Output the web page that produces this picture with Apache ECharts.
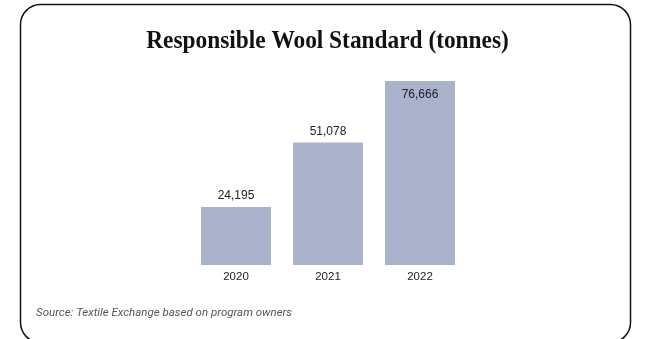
<!DOCTYPE html>
<html><head><meta charset="utf-8">
<script src="https://cdn.jsdelivr.net/npm/echarts@6/dist/echarts.min.js"></script>
<style>html,body{margin:0;padding:0;background:#fff}#c{width:652px;height:339px}</style>
</head><body><div id="c"></div>
<script>
const categories = ['2020', '2021', '2022'];
const values = [24195, 51078, 76666];
const titleText = 'Responsible Wool Standard (tonnes)';
const sourceText = 'Source: Textile Exchange based on program owners';

const chart = echarts.init(document.getElementById('c'), null, {renderer: 'canvas'});
chart.setOption({
  animation: false,
  backgroundColor: '#fff',
  graphic: [
    {type: 'rect', shape: {x: 20.5, y: 4.5, width: 610, height: 338, r: 20},
     style: {fill: 'none', stroke: '#111', lineWidth: 1.5}, z: 10, silent: true},
    {type: 'text', x: 327.5, y: 41.5, scaleX: 0.898, originX: 0, originY: 0,
     style: {text: titleText, fontFamily: 'Liberation Serif', fontWeight: 'bold', fontSize: 26,
       fill: '#111', textAlign: 'center', textVerticalAlign: 'middle', verticalAlign: 'middle'}},
    {type: 'text', x: 36, y: 313,
     style: {text: sourceText, fontFamily: 'Roboto', fontStyle: 'italic', fontSize: 11.5, fill: '#555',
       textAlign: 'left', textVerticalAlign: 'middle', verticalAlign: 'middle'}}
  ],
  grid: {left: 190, width: 276, top: 81, height: 184},
  xAxis: {
    type: 'category', data: categories,
    axisLine: {show: false}, axisTick: {show: false},
    axisLabel: {margin: 6, fontFamily: 'Liberation Sans', fontSize: 11.5, color: '#222'}
  },
  yAxis: {type: 'value', min: 0, max: 76666, show: false, splitLine: {show: false}},
  series: [{
    type: 'bar', barWidth: 70,
    data: values.map((v, i) => ({
      value: v,
      label: i === values.length - 1 ? {position: 'insideTop', distance: 8} : {position: 'top', distance: 5}
    })),
    itemStyle: {color: '#aab2cc'},
    label: {show: true, fontFamily: 'Liberation Sans', fontSize: 12, color: '#222',
      formatter: p => p.value.toLocaleString('en-US')}
  }]
});
</script></body></html>
